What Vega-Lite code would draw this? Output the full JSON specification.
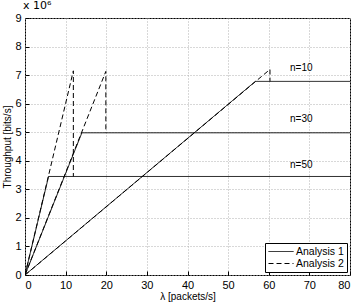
{
  "$schema": "https://vega.github.io/schema/vega-lite/v6.json",
  "width": 325,
  "height": 257,
  "autosize": {"type": "none"},
  "padding": {"left": 25, "top": 18, "right": 10, "bottom": 29},
  "background": "white",
  "title": {"text": "x 10⁶", "anchor": "start", "frame": "group", "fontSize": 11, "fontWeight": "normal", "font": "DejaVu Sans", "offset": 1, "dx": -2, "color": "black"},
  "config": {
    "view": {"stroke": "black", "strokeWidth": 1},
    "font": "Liberation Sans",
    "axis": {
      "grid": true, "gridColor": "#b0b0b0", "gridDash": [1, 2], "gridWidth": 1,
      "domain": false, "tickColor": "black", "tickSize": -4, "labelPadding": 8,
      "labelOverlap": false, "labelBound": false,
      "labelFontSize": 11, "labelColor": "black", "titleFontSize": 10, "titleFontWeight": "normal", "titleColor": "black"
    },
    "legend": {
      "orient": "bottom-right", "offset": 3, "strokeColor": "black", "fillColor": "white",
      "padding": 3, "title": null, "symbolType": "M-1,0H4", "symbolStrokeColor": "black",
      "symbolSize": 100, "symbolStrokeWidth": 1, "labelFontSize": 10.5, "labelColor": "black", "rowPadding": 1, "labelOffset": 17
    }
  },
  "encoding": {
    "x": {"field": "x", "type": "quantitative", "scale": {"domain": [0, 80]},
          "axis": {"values": [0, 10, 20, 30, 40, 50, 60, 70, 80], "title": "λ [packets/s]", "titlePadding": 1, "labelOverlap": false}},
    "y": {"field": "y", "type": "quantitative", "scale": {"domain": [0, 9000000]},
          "axis": {"values": [0, 1000000, 2000000, 3000000, 4000000, 5000000, 6000000, 7000000, 8000000, 9000000],
                   "labelExpr": "datum.value / 1000000", "labelOverlap": false, "title": "Throughput [bits/s]", "titlePadding": 2}}
  },
  "layer": [
    {
      "data": {"values": [
        {"s": "a1n50", "a": "Analysis 1", "o": 0, "x": 0, "y": 0},
        {"s": "a1n50", "a": "Analysis 1", "o": 1, "x": 5.8, "y": 3450000},
        {"s": "a1n50", "a": "Analysis 1", "o": 2, "x": 80, "y": 3450000},
        {"s": "a1n30", "a": "Analysis 1", "o": 0, "x": 0, "y": 0},
        {"s": "a1n30", "a": "Analysis 1", "o": 1, "x": 14, "y": 4980000},
        {"s": "a1n30", "a": "Analysis 1", "o": 2, "x": 80, "y": 4980000},
        {"s": "a1n10", "a": "Analysis 1", "o": 0, "x": 0, "y": 0},
        {"s": "a1n10", "a": "Analysis 1", "o": 1, "x": 56.7, "y": 6780000},
        {"s": "a1n10", "a": "Analysis 1", "o": 2, "x": 80, "y": 6780000},
        {"s": "a2n50", "a": "Analysis 2", "o": 0, "x": 0, "y": 0},
        {"s": "a2n50", "a": "Analysis 2", "o": 1, "x": 11.9, "y": 7150000},
        {"s": "a2n50", "a": "Analysis 2", "o": 2, "x": 11.9, "y": 3450000},
        {"s": "a2n30", "a": "Analysis 2", "o": 0, "x": 0, "y": 0},
        {"s": "a2n30", "a": "Analysis 2", "o": 1, "x": 19.9, "y": 7130000},
        {"s": "a2n30", "a": "Analysis 2", "o": 2, "x": 19.9, "y": 4980000},
        {"s": "a2n10", "a": "Analysis 2", "o": 0, "x": 0, "y": 0},
        {"s": "a2n10", "a": "Analysis 2", "o": 1, "x": 60.3, "y": 7200000},
        {"s": "a2n10", "a": "Analysis 2", "o": 2, "x": 60.3, "y": 6780000}
      ]},
      "mark": {"type": "line", "color": "black", "strokeWidth": 1, "clip": true},
      "encoding": {
        "detail": {"field": "s"},
        "order": {"field": "o"},
        "strokeDash": {"field": "a", "type": "nominal",
                       "scale": {"domain": ["Analysis 1", "Analysis 2"], "range": [[1, 0], [5, 3]]}}
      }
    },
    {
      "data": {"values": [
        {"x": 68, "y": 7250000, "t": "n=10"},
        {"x": 68, "y": 5450000, "t": "n=30"},
        {"x": 68, "y": 3850000, "t": "n=50"}
      ]},
      "mark": {"type": "text", "fontSize": 10, "color": "black", "align": "center", "baseline": "middle"},
      "encoding": {
        "text": {"field": "t"}
      }
    }
  ]
}
